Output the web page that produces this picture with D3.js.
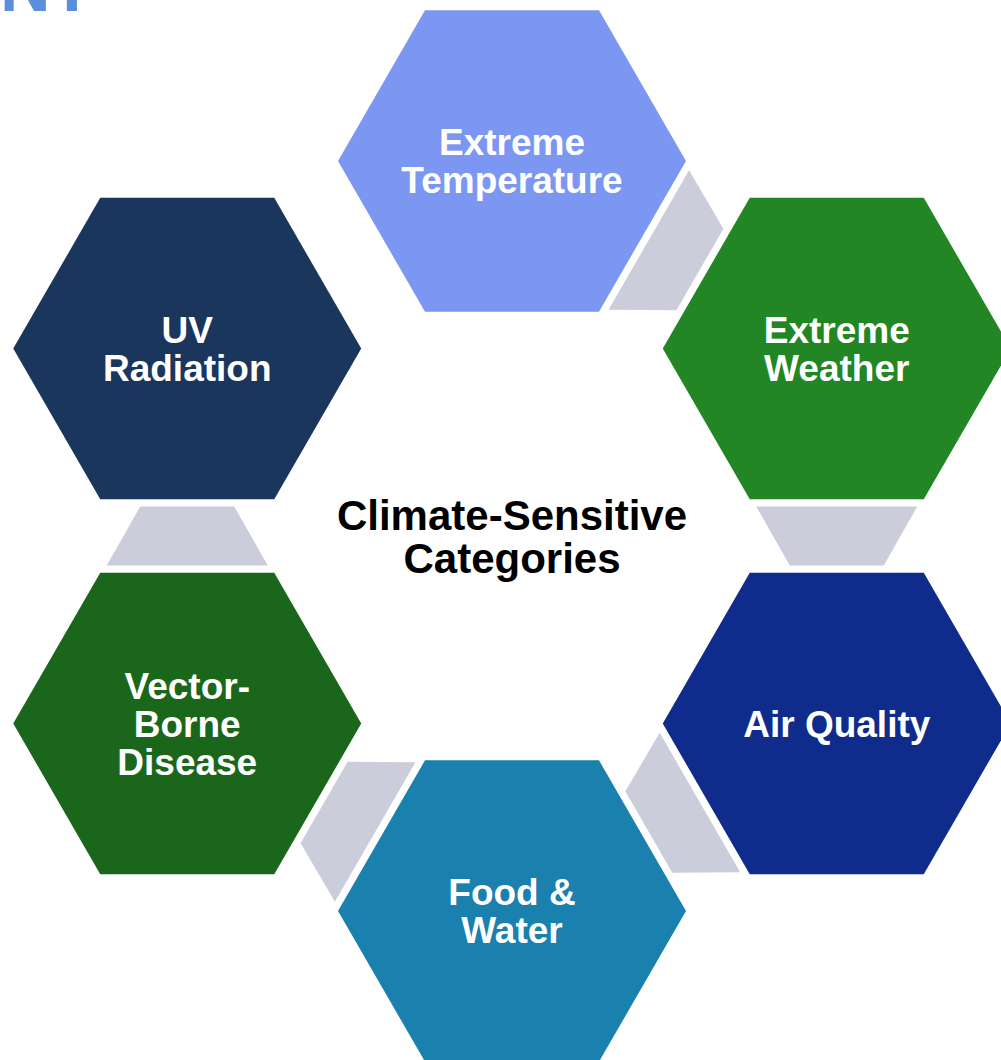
<!DOCTYPE html>
<html>
<head>
<meta charset="utf-8">
<script src="https://cdn.jsdelivr.net/npm/d3@7"></script>
<style>
  html, body { margin: 0; padding: 0; background: #fff; }
  svg { display: block; font-family: "Liberation Sans", Arial, sans-serif; font-weight: bold; }
</style>
</head>
<body>
<div class="viz"></div>
<script>
// categories clockwise from the top
const categories = [
  ["Extreme", "Temperature"],
  ["Extreme", "Weather"],
  ["Air Quality"],
  ["Food &", "Water"],
  ["Vector-", "Borne", "Disease"],
  ["UV", "Radiation"]
]
const colors = ["#7b97f1", "#218623", "#0f2b8c", "#1a81af", "#1a661b", "#1a365d"]
const links = [[0, 1], [1, 2], [2, 3], [3, 4], [4, 5]]
const centerLabel = ["Climate-Sensitive", "Categories"]

const w = 1001, h = 1060
const cx = 512, cy = 536
const ring = 375   // distance of hexagon centres from the middle
const R = 174      // hexagon radius
const linkLen = 59, linkWide = 161, linkNarrow = 94

const svg = d3.select(".viz")
  .append("svg")
  .attr("width", w)
  .attr("height", h)

// cut-off page title in the corner
svg.append("text")
  .attr("x", 0)
  .attr("y", 11)
  .attr("font-size", 70)
  .attr("fill", "#5b8fd9")
  .text("NT")

const angle = d3.scaleLinear()
  .domain([0, categories.length])
  .range([-Math.PI / 2, 1.5 * Math.PI])

const pos = categories.map((d, i) => [cx + ring * Math.cos(angle(i)), cy + ring * Math.sin(angle(i))])

const hexPts = d3.range(6).map(k => [R * Math.cos(k * Math.PI / 3), R * Math.sin(k * Math.PI / 3)])
const line = d3.line()

// connectors, wide at the source end and narrow at the target end
svg.selectAll("path.link")
  .data(links)
  .enter()
  .append("path")
  .attr("class", "link")
  .attr("fill", "#cccdda")
  .attr("d", line([
    [-linkLen / 2, -linkWide / 2], [-linkLen / 2, linkWide / 2],
    [linkLen / 2, linkNarrow / 2], [linkLen / 2, -linkNarrow / 2]
  ]) + "Z")
  .attr("transform", d => {
    const a = pos[d[0]], b = pos[d[1]]
    const deg = Math.atan2(b[1] - a[1], b[0] - a[0]) * 180 / Math.PI
    return `translate(${(a[0] + b[0]) / 2},${(a[1] + b[1]) / 2}) rotate(${deg})`
  })

const hex = svg.selectAll("g.hex")
  .data(categories)
  .enter()
  .append("g")
  .attr("class", "hex")
  .attr("transform", (d, i) => `translate(${pos[i][0]},${pos[i][1]})`)

hex.append("path")
  .attr("d", line(hexPts) + "Z")
  .attr("fill", (d, i) => colors[i])

const fs = 37, lh = 38
hex.each(function (d) {
  const g = d3.select(this)
  d.forEach((t, j) => {
    g.append("text")
      .attr("text-anchor", "middle")
      .attr("x", 0)
      .attr("y", (j - (d.length - 1) / 2) * lh + fs * 0.358)
      .attr("font-size", fs)
      .attr("fill", "#fff")
      .text(t)
  })
})

const tfs = 42, tlh = 43
svg.selectAll("text.center")
  .data(centerLabel)
  .enter()
  .append("text")
  .attr("class", "center")
  .attr("text-anchor", "middle")
  .attr("x", cx)
  .attr("y", (d, j) => cy + (j - (centerLabel.length - 1) / 2) * tlh + tfs * 0.358)
  .attr("font-size", tfs)
  .attr("fill", "#000")
  .text(d => d)
</script>
</body>
</html>
